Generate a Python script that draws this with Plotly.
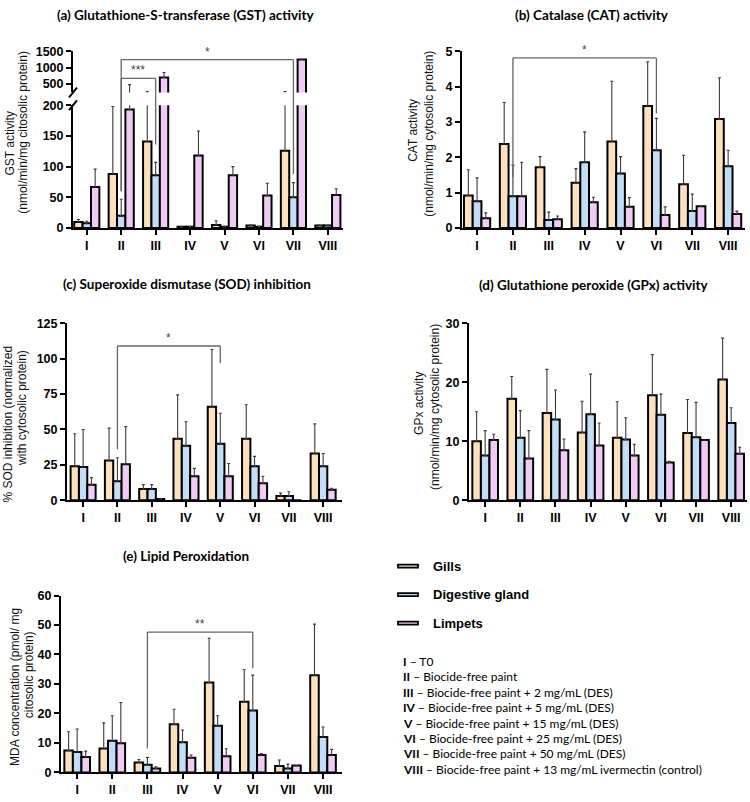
import plotly.graph_objects as go

W, H = 750, 802

categories = ["I", "II", "III", "IV", "V", "VI", "VII", "VIII"]
series_names = ["Gills", "Digestive gland", "Limpets"]
colors = ["#FDE1BF", "#C3DDF7", "#F0CBF5"]

# (a) GST activity
gst_gills = [10, 88, 141, 2, 5, 4, 126, 4]
gst_gills_err = [4, 110, 129, 1, 7, 1, 144, 1]
gst_dg = [8, 20, 86, 2, 2, 2, 50, 4]
gst_dg_err = [3, 27, 21, 1, 1, 1, 24, 1]
gst_limp = [67, 193, 700, 118, 86, 53, 1250, 54]
gst_limp_err = [29, 287, 150, 40, 14, 20, 0, 10]

# (b) CAT activity
cat_gills = [0.92, 2.38, 1.72, 1.28, 2.45, 3.45, 1.24, 3.08]
cat_gills_err = [0.73, 1.17, 0.30, 0.40, 1.70, 1.25, 0.82, 1.17]
cat_dg = [0.76, 0.90, 0.23, 1.86, 1.54, 2.20, 0.48, 1.75]
cat_dg_err = [0.66, 0.88, 0.22, 0.86, 0.48, 0.90, 0.48, 0.45]
cat_limp = [0.28, 0.90, 0.25, 0.73, 0.60, 0.37, 0.62, 0.40]
cat_limp_err = [0.15, 0.96, 0.09, 0.14, 0.26, 0.23, 0, 0.08]

# (c) SOD inhibition
sod_gills = [24, 28, 8, 43.5, 66, 43.5, 3, 33]
sod_gills_err = [23, 23, 3, 31, 40.5, 24, 2, 21]
sod_dg = [23.5, 13.5, 8, 38.5, 40, 24, 3, 24]
sod_dg_err = [26.5, 16.5, 3, 17, 21.5, 7, 3, 9]
sod_limp = [11, 25.5, 0.8, 17, 17, 12, 0, 7.5]
sod_limp_err = [5, 26.5, 0, 5.5, 9, 5, 0, 1]

# (d) GPx activity
gpx_gills = [10, 17.2, 14.8, 11.5, 10.6, 17.8, 11.4, 20.5]
gpx_gills_err = [5, 3.8, 7.4, 5.3, 6.1, 6.9, 5.7, 7]
gpx_dg = [7.6, 10.6, 13.7, 14.6, 10.3, 14.5, 10.7, 13.1]
gpx_dg_err = [4.2, 4.6, 5, 6.8, 3.7, 3.5, 5.9, 2.6]
gpx_limp = [10.2, 7.1, 8.5, 9.3, 7.6, 6.4, 10.2, 7.9]
gpx_limp_err = [1, 4.7, 1.9, 3.8, 1.9, 0.2, 0, 1.1]

# (e) Lipid peroxidation
mda_gills = [7.4, 8.1, 3.4, 16.3, 30.5, 24, 2.2, 33]
mda_gills_err = [6.4, 8.7, 1, 5.1, 15, 10.8, 2, 17.3]
mda_dg = [6.9, 10.7, 2.6, 10.2, 15.8, 21, 1.3, 12]
mda_dg_err = [7.8, 8.5, 2.5, 4.2, 3.4, 12, 1.5, 3.4]
mda_limp = [5.2, 9.9, 1.3, 5, 5.5, 5.9, 2.3, 5.9]
mda_limp_err = [2, 13.8, 0.6, 0.9, 2.5, 0.5, 0, 1.9]

treatment_lines = [
    ("I", "T0"),
    ("II", "Biocide-free paint"),
    ("III", "Biocide-free paint + 2 mg/mL (DES)"),
    ("IV", "Biocide-free paint + 5 mg/mL (DES)"),
    ("V", "Biocide-free paint + 15 mg/mL (DES)"),
    ("VI", "Biocide-free paint + 25 mg/mL (DES)"),
    ("VII", "Biocide-free paint + 50 mg/mL (DES)"),
    ("VIII", "Biocide-free paint + 13 mg/mL ivermectin (control)"),
]


def fx(p):
    return p / W


def fy(p):
    return 1 - p / H


ARIAL = "Liberation Sans, Arial, sans-serif"
CALIBRI = "Lato, Carlito, Calibri, sans-serif"
ERR_COLOR = "#3a3a3a"
BR_COLOR = "#666666"

fig = go.Figure()


def add_bars(xa, ya, groups):
    for i, (vals, errs) in enumerate(groups):
        fig.add_trace(go.Bar(
            x=categories, y=vals, name=series_names[i],
            marker=dict(color=colors[i], line=dict(color="black", width=2)),
            error_y=dict(type="data", array=errs, arrayminus=[0] * len(errs),
                         symmetric=False, color=ERR_COLOR, thickness=1.1, width=1.5),
            xaxis=xa, yaxis=ya, showlegend=False, hoverinfo="skip",
        ))


gst = [(gst_gills, gst_gills_err), (gst_dg, gst_dg_err), (gst_limp, gst_limp_err)]
add_bars("x", "y", gst)
add_bars("x", "y2", gst)
add_bars("x2", "y3", [(cat_gills, cat_gills_err), (cat_dg, cat_dg_err), (cat_limp, cat_limp_err)])
add_bars("x3", "y4", [(sod_gills, sod_gills_err), (sod_dg, sod_dg_err), (sod_limp, sod_limp_err)])
add_bars("x4", "y5", [(gpx_gills, gpx_gills_err), (gpx_dg, gpx_dg_err), (gpx_limp, gpx_limp_err)])
add_bars("x5", "y6", [(mda_gills, mda_gills_err), (mda_dg, mda_dg_err), (mda_limp, mda_limp_err)])

axis_common = dict(showline=True, linecolor="black", linewidth=2, ticks="outside",
                   ticklen=5, tickwidth=2, tickcolor="black", showgrid=False,
                   zeroline=False, tickfont=dict(family=ARIAL, size=12.5, color="black", weight="bold"))


def xax(px0, px1, rng, anchor):
    return dict(axis_common, domain=[fx(px0), fx(px1)], range=rng, anchor=anchor,
                type="category", tickangle=0)


def yax(py_top, py_bot, rng, anchor, tickvals):
    return dict(axis_common, domain=[fy(py_bot), fy(py_top)], range=rng, anchor=anchor,
                tickvals=tickvals, ticktext=[str(t) for t in tickvals])


# panel geometry (pixels)
A_X = (73, 343); A_LO = (100, 225); A_UP = (45, 87)
GST_LO = [0, 200]; GST_UP = [240, 1500]
B_X = (462, 745); B_Y = (45, 225)
C_X = (67, 342); C_Y = (322, 502)
D_X = (469, 747); D_Y = (322, 502)
E_X = (61, 342); E_Y = (599, 779)

fig.update_layout(
    width=W, height=H, margin=dict(l=0, r=0, t=0, b=0),
    paper_bgcolor="white", plot_bgcolor="white",
    barmode="group", bargap=0.27, bargroupgap=0,
    xaxis=xax(*A_X, [-0.4, 7.44], "y"),
    yaxis=yax(*A_LO, GST_LO, "x", [0, 50, 100, 150, 200]),
    yaxis2=yax(*A_UP, GST_UP, "x", [500, 1000, 1500]),
    xaxis2=xax(*B_X, [-0.42, 7.47], "y3"),
    yaxis3=yax(*B_Y, [0, 5], "x2", [0, 1, 2, 3, 4, 5]),
    xaxis3=xax(*C_X, [-0.47, 7.55], "y4"),
    yaxis4=yax(*C_Y, [0, 125], "x3", [0, 25, 50, 75, 100, 125]),
    xaxis4=xax(*D_X, [-0.46, 7.45], "y5"),
    yaxis5=yax(*D_Y, [0, 30], "x4", [0, 10, 20, 30]),
    xaxis5=xax(*E_X, [-0.46, 7.54], "y6"),
    yaxis6=yax(*E_Y, [0, 60], "x5", [0, 10, 20, 30, 40, 50, 60]),
)

shapes = []
annotations = []


def gst_paper(v):
    if v <= GST_LO[1]:
        f = (v - GST_LO[0]) / (GST_LO[1] - GST_LO[0])
        return fy(A_LO[1]) + f * (fy(A_LO[0]) - fy(A_LO[1]))
    f = (v - GST_UP[0]) / (GST_UP[1] - GST_UP[0])
    return fy(A_UP[1]) + f * (fy(A_UP[0]) - fy(A_UP[1]))


def line(xref, yref, x0, y0, x1, y1):
    shapes.append(dict(type="line", xref=xref, yref=yref, x0=x0, y0=y0, x1=x1, y1=y1,
                       line=dict(color=BR_COLOR, width=1.3), layer="above"))


def bracket(xref, yref, xl, xr, ytop, yleft, yright, text, conv=None):
    c = conv if conv else (lambda v: v)
    line(xref, yref, xl, c(ytop), xr, c(ytop))
    line(xref, yref, xl, c(ytop), xl, c(yleft))
    line(xref, yref, xr, c(ytop), xr, c(yright))
    annotations.append(dict(xref=xref, yref=yref, x=(xl + xr) / 2, y=c(ytop), text=text,
                            showarrow=False, yanchor="bottom", yshift=-1,
                            font=dict(family=ARIAL, size=12, color="#444")))


# significance brackets
bracket("x", "paper", 1, 6, 1245, 60, 88, "*", gst_paper)
bracket("x", "paper", 1, 2, 670, 60, 136, "***", gst_paper)
bracket("x2", "y3", 1, 5, 4.81, 1.44, 3.24, "*")
bracket("x3", "y4", 1, 4, 109, 36, 97, "*")
bracket("x5", "y6", 2, 5, 47.6, 8.1, 35.3, "**")

# axis break marks for panel (a)
for py in (A_UP[1], A_LO[0]):
    shapes.append(dict(type="line", xref="paper", yref="paper",
                       x0=fx(A_X[0] - 4), y0=fy(py + 5), x1=fx(A_X[0] + 4), y1=fy(py - 5),
                       line=dict(color="black", width=2)))

# panel titles
titles = [
    ("(a) Glutathione-S-transferase (GST) activity", 186, 8),
    ("(b) Catalase (CAT) activity", 592, 8),
    ("(c) Superoxide dismutase (SOD) inhibition", 187, 282),
    ("(d) Glutathione peroxide (GPx) activity", 593, 283),
    ("(e) Lipid Peroxidation", 186, 559),
]
for t, x, y in titles:
    annotations.append(dict(xref="paper", yref="paper", x=fx(x), y=fy(y), text=t,
                            showarrow=False, xanchor="center", yanchor="middle",
                            font=dict(family=CALIBRI, size=13.5, color="black", weight="bold")))

# y axis titles (each line separately)
ytitles = [
    ("GST activity", 10, 139),
    ("(nmol/min/mg citosolic protein)", 23, 128),
    ("CAT activity", 413, 126),
    ("(nmol/min/mg cytosolic protein)", 429, 129),
    ("% SOD inhibition (normalized", 8, 425),
    ("with cytosolic protein)", 22, 408),
    ("GPx activity", 419, 404),
    ("(nmol/min/mg cytosolic protein)", 435, 407),
    ("MDA concentration (pmol/ mg", 15, 692),
    ("citosolic protein)", 29, 680),
]
for t, x, y in ytitles:
    annotations.append(dict(xref="paper", yref="paper", x=fx(x), y=fy(y), text=t,
                            showarrow=False, textangle=-90, xanchor="center", yanchor="middle",
                            font=dict(family=ARIAL, size=12, color="#111111")))

# legend
leg_y = [569, 598, 627]
for i, name in enumerate(series_names):
    shapes.append(dict(type="rect", xref="paper", yref="paper",
                       x0=fx(398), x1=fx(418), y0=fy(leg_y[i] + 1.5), y1=fy(leg_y[i] - 1.5),
                       fillcolor=colors[i], line=dict(color="black", width=1.8)))
    annotations.append(dict(xref="paper", yref="paper", x=fx(431), y=fy(leg_y[i]), text=name,
                            showarrow=False, xanchor="left", yanchor="middle",
                            font=dict(family=ARIAL, size=13, color="black", weight="bold")))

# treatment key
for k, (num, desc) in enumerate(treatment_lines):
    annotations.append(dict(xref="paper", yref="paper", x=fx(401), y=fy(666 + k * 15.7),
                            text=f"<b>{num}</b> – {desc}", showarrow=False,
                            xanchor="left", yanchor="middle",
                            font=dict(family=CALIBRI, size=12, color="black")))

fig.update_layout(shapes=shapes, annotations=annotations)
fig.write_html("out.html", config={"displayModeBar": False},
               post_script="document.body.style.margin='0';document.body.style.overflow='hidden';")
